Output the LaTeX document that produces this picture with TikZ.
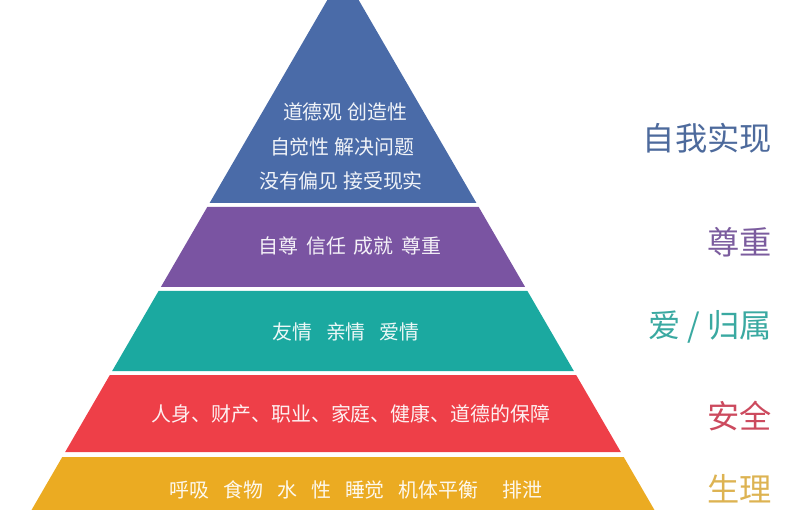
\documentclass[tikz,border=0pt]{standalone}
\usepackage{fontspec}
\newfontfamily\cjk{Noto Sans CJK SC}
\usepackage{tikz}
\usepackage{xcolor}

\definecolor{pblue}{HTML}{4A6BA8}
\definecolor{ppurple}{HTML}{7A54A2}
\definecolor{pteal}{HTML}{1BA9A0}
\definecolor{pred}{HTML}{EE3F48}
\definecolor{pyellow}{HTML}{EBAB22}
\definecolor{lblue}{HTML}{4D6A9C}
\definecolor{lpurple}{HTML}{7B5C9E}
\definecolor{lteal}{HTML}{3AA9A1}
\definecolor{lred}{HTML}{CC4A5E}
\definecolor{lyellow}{HTML}{DDB352}

\begin{document}
\begin{tikzpicture}[x=0.03cm,y=-0.03cm,
    bandtext/.style={text=white,opacity=0.92,inner sep=0pt,
      font=\cjk\fontsize{17}{20}\selectfont},
    sidelabel/.style={anchor=east,inner sep=0pt,
      font=\cjk\fontsize{27.5}{30}\selectfont}]
        \def\apexx{343}
        \def\apexy{-27}
        \def\slope{0.58}

        \useasboundingbox (0,0) rectangle (800,510);
        \clip (0,0) rectangle (800,510);

        %------------------
        % ピラミッドの各段
        %------------------

        \foreach \top/\bot/\col in {-27/203/pblue, 207/287/ppurple,
            291/371/pteal, 375/452/pred, 457/540/pyellow}
          \fill[\col]
            ({\apexx-\slope*(\top-\apexy)},\top)
            -- ({\apexx+\slope*(\top-\apexy)},\top)
            -- ({\apexx+\slope*(\bot-\apexy)},\bot)
            -- ({\apexx-\slope*(\bot-\apexy)},\bot)
            -- cycle;

        %------------------
        % 段の中の文字
        %------------------

        \node[bandtext] (sx1) at (345,112) {道德观 创造性};
        \node[bandtext] (sx2) at (342,147) {自觉性 解决问题};
        \node[bandtext] (sx3) at (341,181) {没有偏见 接受现实};
        \node[bandtext] (zz) at (350,246) {自尊\hspace{0.4em}信任\hspace{0.4em}成就\hspace{0.4em}尊重};
        \node[bandtext] (ag) at (346,332) {友情\hspace{0.7em}亲情\hspace{0.7em}爱情};
        \node[bandtext] (aq) at (351,414) {人身、财产、职业、家庭、健康、道德的保障};
        \node[bandtext] (sl) at (356,490)
          {呼吸\hspace{0.7em}食物\hspace{0.7em}水\hspace{0.7em}性\hspace{0.7em}睡觉\hspace{0.7em}机体平衡\hspace{1.2em}排泄};

        %------------------
        % 右側のラベル
        %------------------

        \node[sidelabel,text=lblue] (zwl) at (772,138) {自我实现};
        \node[sidelabel,text=lpurple] (zzl) at (772,242) {尊重};
        \node[sidelabel,text=lteal] (agl) at (772,327) {爱 / 归属};
        \node[sidelabel,text=lred] (aql) at (772,416) {安全};
        \node[sidelabel,text=lyellow] (sll) at (772,489) {生理};
      \end{tikzpicture}
\end{document}
